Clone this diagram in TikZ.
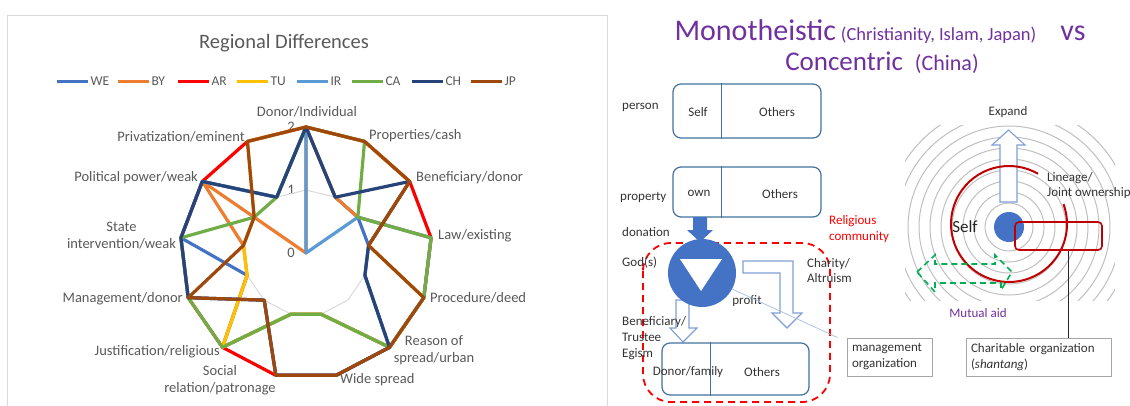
\documentclass[tikz,border=0pt]{standalone}
\usepackage{fontspec}
\setmainfont{Carlito}
\usetikzlibrary{positioning}

\definecolor{WEcol}{HTML}{4472C4}
\definecolor{BYcol}{HTML}{ED7D31}
\definecolor{ARcol}{HTML}{FF0000}
\definecolor{TUcol}{HTML}{FFC000}
\definecolor{IRcol}{HTML}{5B9BD5}
\definecolor{CAcol}{HTML}{70AD47}
\definecolor{CHcol}{HTML}{264478}
\definecolor{JPcol}{HTML}{9E480E}
\definecolor{txtgray}{HTML}{595959}
\definecolor{gridgray}{HTML}{D9D9D9}
\definecolor{boxblue}{HTML}{41719C}
\definecolor{arrowblue}{HTML}{7F9FD6}
\definecolor{titlepurple}{HTML}{7030A0}
\definecolor{darkred}{HTML}{C00000}
\definecolor{aidgreen}{HTML}{00B050}
\definecolor{ringgray}{HTML}{BFBFBF}
\definecolor{dotblue}{HTML}{4472C4}

\tikzset{
  axislabel/.style={text=txtgray, font=\fontsize{14.5}{17}\selectfont, inner sep=0pt, align=center},
  legendtext/.style={text=txtgray, font=\fontsize{13.5}{15}\selectfont, inner sep=0pt},
  series/.style={line width=3.2pt, line join=round},
  smalltext/.style={text=black!80, font=\fontsize{13}{16}\selectfont, inner sep=0pt, align=left},
  splitbox/.style={draw=boxblue, line width=1.2pt, rounded corners=8pt, inner sep=0pt},
  hollowarrow/.style={draw=arrowblue, line width=1.1pt, fill=white},
  notebox/.style={draw=gray!70, line width=0.9pt, inner sep=4pt, align=left, font=\fontsize{13}{16}\selectfont, text=black!80}
}

\begin{document}
\begin{tikzpicture}[x=1pt,y=-1pt]
\useasboundingbox (0,0) rectangle (1130,405);

% ---- left: radar chart ----
\draw[gridgray, line width=1pt] (7,406) -- (7,15) -- (607,15) -- (607,406);
\node[text=txtgray, font=\fontsize{20.5}{22}\selectfont] (charttitle) at (284,43) {Regional Differences};
\foreach \s/\x in {WE/57,BY/118,AR/178,TU/237,IR/297,CA/352,CH/412,JP/471}
  \draw[\s col, line width=3pt] (\x,81) -- ++(31,0) node[right=1pt, legendtext] (leg\s) {\s};

% tick labels
\node[axislabel, anchor=east] (tick0) at (295,253) {0};
\node[axislabel, anchor=east] (tick1) at (295,190) {1};
\node[axislabel, anchor=east] (tick2) at (295,127) {2};

% axis labels
\node[axislabel] (ax0) at (307,112) {Donor/Individual};
\node[axislabel, anchor=west] (ax1) at (369,136) {Properties/cash};
\node[axislabel, anchor=west] (ax2) at (416,178) {Beneficiary/donor};
\node[axislabel, anchor=west] (ax3) at (438,236) {Law/existing};
\node[axislabel, anchor=west] (ax4) at (430,298) {Procedure/deed};
\node[axislabel] (ax5) at (434,350) {Reason of\\spread/urban};
\node[axislabel, anchor=west] (ax6) at (340,380) {Wide spread};
\node[axislabel] (ax7) at (220,380) {Social\\relation/patronage};
\node[axislabel, anchor=east] (ax8) at (220,352) {Justification/religious};
\node[axislabel, anchor=east] (ax9) at (183,299) {Management/donor};
\node[axislabel] (ax10) at (121.5,236) {State\\intervention/weak};
\node[axislabel, anchor=east] (ax11) at (198,178) {Political power/weak};
\node[axislabel, anchor=east] (ax12) at (245,137) {Privatization/eminent};

\begin{scope}[shift={(306,253)}, y=1pt]
  % grid
  \foreach \r in {1,2}
    \draw[gridgray, line width=1pt] ({90}:{\r*63}) \foreach \k in {1,...,12}{ -- ({90-\k*360/13}:{\r*63})} -- cycle;
  % series
  \foreach \s/\vals in {WE/{2,1,1,1,1,2,1,1,2,1,2,2,1},
                        BY/{2,1,1,2,2,2,1,1,2,1,1,2,0},
                        AR/{2,2,2,2,2,2,2,2,2,2,2,2,2},
                        TU/{2,2,2,1,2,2,1,1,2,1,1,1,2},
                        IR/{2,0,1,2,2,2,2,2,1,2,2,2,1},
                        CA/{2,2,1,2,2,2,1,1,2,2,2,1,1},
                        CH/{2,1,2,1,1,2,2,2,1,2,2,2,1},
                        JP/{2,2,2,1,2,2,2,2,1,2,1,1,2}}{
    \foreach \v [count=\k from 0] in \vals
      \coordinate (\s\k) at ({90-\k*360/13}:{\v*63});
    \draw[series, \s col] (\s0) \foreach \k in {1,...,12}{ -- (\s\k)} -- cycle;
  }
\end{scope}

% ---- right: monotheistic vs concentric ----
\node[text=titlepurple, font=\fontsize{30}{32}\selectfont, inner sep=0pt] (titleA) at (880,32)
  {Monotheistic\,{\fontsize{18.5}{20}\selectfont (Christianity, Islam, Japan)}\hspace{24pt}vs};
\node[text=titlepurple, font=\fontsize{27}{30}\selectfont, inner sep=0pt] (titleB) at (882,63)
  {Concentric\hspace{12pt}{\fontsize{22}{24}\selectfont (China)}};

% person
\node[splitbox, minimum width=148pt, minimum height=54pt] (personbox) at (747,111) {};
\draw[boxblue, line width=1.2pt] ([xshift=49pt]personbox.north west) -- ([xshift=49pt]personbox.south west);
\node[smalltext] (selfcell) at (698,112) {Self};
\node[smalltext] (otherscell) at (777,112) {Others};
\node[smalltext, anchor=west] (personlbl) at (622,107) {person};

% property
\node[splitbox, minimum width=148pt, minimum height=50pt] (propbox) at (747,192) {};
\draw[boxblue, line width=1.2pt] ([xshift=49pt]propbox.north west) -- ([xshift=49pt]propbox.south west);
\node[smalltext] (owncell) at (699,193) {own};
\node[smalltext] (propothers) at (780,194) {Others};
\node[smalltext, anchor=west] (proplbl) at (620,197) {property};
\node[smalltext, anchor=west] (donlbl) at (622,232) {donation};

% religious community
\draw[red, line width=1.8pt, dash pattern=on 7pt off 5pt, rounded corners=28pt] (643,243) rectangle (830,402);
\node[smalltext, text=red, anchor=west] (relcomm) at (829,229) {Religious\\community};

% outflows
\draw[hollowarrow] (676,300) -- (676,328) -- (670,328) -- (683,342) -- (697,328) -- (689,328) -- (689,300) -- cycle;
\draw[hollowarrow] (743,261) -- (793,261) -- (793,313) -- (802,313) -- (787,328) -- (772,313) -- (780,313) -- (780,273) -- (743,273) -- cycle;

% god(s)
\node[circle, fill=dotblue, minimum size=68pt, inner sep=0pt] (god) at (702,273) {};
\fill[white] (680,259) -- (722,259) -- (701,291) -- cycle;
\fill[dotblue] (693,217) -- (707,217) -- (707,230) -- (713,230) -- (700,242) -- (687,230) -- (693,230) -- cycle;
\node[smalltext, anchor=west] (godlbl) at (622,263) {God(s)};
\node[smalltext, anchor=west, font=\fontsize{13}{15}\selectfont] (charlbl) at (807,270.5) {Charity/\\Altruism};
\node[smalltext] (profitlbl) at (747,301) {profit};
\node[smalltext, anchor=west] (benlbl) at (622,338) {Beneficiary/\\Trustee\\Egism};

% donor
\node[splitbox, minimum width=147pt, minimum height=52pt] (donorbox) at (735.5,369) {};
\draw[boxblue, line width=1.2pt] ([xshift=49pt]donorbox.north west) -- ([xshift=49pt]donorbox.south west);
\node[smalltext] (donorcell) at (688,372) {Donor/family};
\node[smalltext] (donorothers) at (762,372) {Others};

% organizations
\node[notebox, minimum width=85pt, minimum height=38pt, text width=75pt] (mgmt) at (889.5,357) {management\\organization};
\node[notebox, minimum width=145pt, minimum height=38pt, text width=135pt] (shantang) at (1038.5,357) {Charitable organization\\(\textit{shantang})};
\draw[arrowblue!70, line width=0.7pt] (god.-28) -- ([xshift=-9pt]mgmt.north west);

% concentric rings
\begin{scope}[shift={(1009,227)}, y=1pt]
  \begin{scope}
    \clip (-104,-73) rectangle (106,102);
    \foreach \r in {24,35,...,125}
      \draw[ringgray, line width=1pt] (0,0) circle[radius=\r];
  \end{scope}
\end{scope}
\draw[hollowarrow] (1000,202) -- (1000,145) -- (992,145) -- (1008.5,130) -- (1025,145) -- (1017,145) -- (1017,202) -- cycle;
\begin{scope}[shift={(1009,227)}, y=1pt]
  \draw[darkred, line width=2pt] (0,3) ++(60:58) arc[start angle=60, end angle=380, radius=58];
\end{scope}
\node[circle, fill=dotblue, minimum size=30pt, inner sep=0pt] (selfdot) at (1009,227) {};
\node[draw=darkred, line width=1.6pt, rounded corners=4pt, minimum width=87pt, minimum height=28pt] (jointrect) at (1058.5,236) {};
\coordinate (jointdrop) at ([xshift=10pt]jointrect.south);
\draw[black!85, line width=1.2pt] (jointdrop) -- (jointdrop |- shantang.north);
\draw[aidgreen, line width=1.6pt, dash pattern=on 6pt off 4pt] (917,272) -- (935,255) -- (935,264) -- (995,264) -- (995,255) -- (1012,272) -- (1001,290) -- (1001,283) -- (935,283) -- (935,292) -- cycle;

\node[smalltext] (expandlbl) at (1008,112) {Expand};
\node[text=black!85, font=\fontsize{17}{19}\selectfont, inner sep=0pt] (selflbl) at (965,227) {Self};
\node[smalltext, anchor=west, font=\fontsize{13}{15}\selectfont] (lineagelbl) at (1047,185.5) {Lineage/\\Joint ownership};
\node[text=titlepurple, font=\fontsize{13}{15}\selectfont, inner sep=0pt] (aidlbl) at (978,313) {Mutual aid};
\end{tikzpicture}
\end{document}
